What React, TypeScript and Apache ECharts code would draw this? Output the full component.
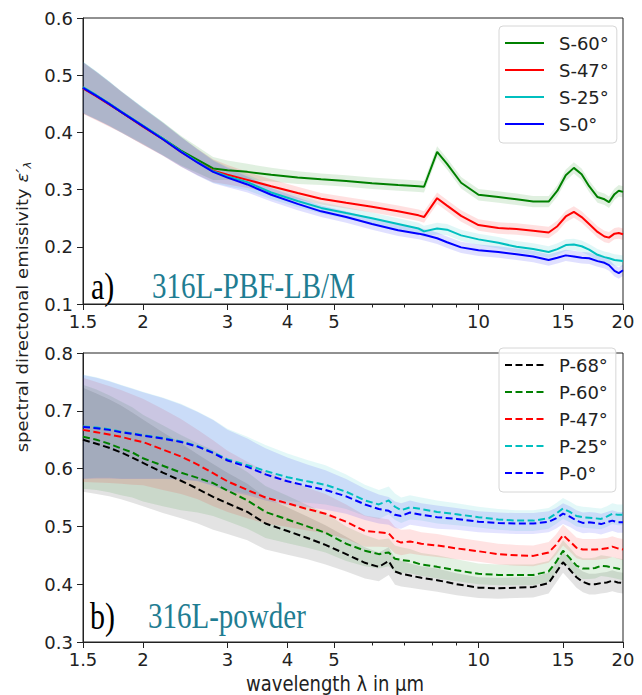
import React, { useEffect, useRef } from 'react';
import * as echarts from 'echarts';

// ---------- data ----------
const W_TOP = [1.5, 1.6, 1.7, 1.8, 2.0, 2.2, 2.4, 2.6, 2.8, 3.0, 3.3, 3.7, 4.2, 4.7, 5.3, 6.0, 6.8, 7.5, 7.7, 8.2, 8.6, 9.2, 10, 11, 12, 13, 14, 14.6, 15.2, 15.8, 16.4, 17, 17.7, 18.3, 18.7, 19.2, 19.6, 20];
const S60 = [0.478, 0.464, 0.450, 0.436, 0.411, 0.389, 0.368, 0.352, 0.337, 0.334, 0.331, 0.326, 0.321, 0.318, 0.315, 0.311, 0.308, 0.306, 0.305, 0.366, 0.345, 0.312, 0.291, 0.287, 0.283, 0.279, 0.279, 0.298, 0.325, 0.338, 0.327, 0.306, 0.287, 0.283, 0.278, 0.292, 0.298, 0.296];
const S47 = [0.477, 0.463, 0.449, 0.436, 0.410, 0.388, 0.366, 0.348, 0.333, 0.326, 0.317, 0.306, 0.294, 0.284, 0.277, 0.270, 0.262, 0.255, 0.252, 0.285, 0.272, 0.254, 0.238, 0.233, 0.231, 0.228, 0.225, 0.236, 0.253, 0.261, 0.252, 0.240, 0.226, 0.218, 0.216, 0.223, 0.224, 0.222];
const S25 = [0.479, 0.465, 0.451, 0.437, 0.412, 0.389, 0.367, 0.348, 0.332, 0.323, 0.313, 0.295, 0.280, 0.268, 0.259, 0.250, 0.240, 0.232, 0.227, 0.232, 0.230, 0.220, 0.213, 0.207, 0.200, 0.196, 0.191, 0.196, 0.203, 0.204, 0.201, 0.195, 0.186, 0.182, 0.180, 0.177, 0.176, 0.175];
const S0 = [0.478, 0.464, 0.450, 0.436, 0.411, 0.388, 0.366, 0.347, 0.331, 0.321, 0.309, 0.291, 0.275, 0.262, 0.252, 0.240, 0.229, 0.223, 0.221, 0.215, 0.208, 0.199, 0.194, 0.191, 0.187, 0.183, 0.177, 0.181, 0.185, 0.183, 0.181, 0.180, 0.175, 0.172, 0.168, 0.158, 0.154, 0.159];
const TOP_SPREAD = [0.045, 0.042, 0.039, 0.036, 0.032, 0.029, 0.026, 0.023, 0.020, 0.017, 0.014, 0.012, 0.011, 0.010, 0.010, 0.010, 0.010, 0.010, 0.010, 0.010, 0.010, 0.010, 0.010, 0.010, 0.010, 0.010, 0.010, 0.010, 0.010, 0.010, 0.010, 0.010, 0.010, 0.010, 0.010, 0.010, 0.010, 0.010];

const W_BOT = [1.5, 1.6, 1.7, 1.8, 1.9, 2.0, 2.2, 2.4, 2.6, 2.8, 3.0, 3.3, 3.6, 4.0, 4.4, 4.8, 5.3, 5.8, 6.2, 6.5, 6.7, 6.9, 7.2, 7.6, 8.2, 9, 10, 11, 12, 13, 14, 14.5, 15, 15.5, 16, 16.5, 17, 17.5, 18, 18.5, 19, 19.5, 20];
const P68 = [0.650, 0.643, 0.636, 0.628, 0.619, 0.610, 0.593, 0.579, 0.565, 0.551, 0.540, 0.525, 0.505, 0.492, 0.480, 0.468, 0.452, 0.437, 0.430, 0.440, 0.422, 0.418, 0.415, 0.411, 0.407, 0.400, 0.394, 0.393, 0.394, 0.395, 0.402, 0.420, 0.438, 0.425, 0.412, 0.404, 0.400, 0.400, 0.402, 0.403, 0.406, 0.403, 0.402];
const P60 = [0.655, 0.650, 0.643, 0.635, 0.628, 0.618, 0.605, 0.593, 0.584, 0.575, 0.562, 0.545, 0.525, 0.512, 0.500, 0.489, 0.470, 0.458, 0.452, 0.455, 0.444, 0.442, 0.440, 0.434, 0.430, 0.424, 0.418, 0.416, 0.416, 0.416, 0.422, 0.438, 0.458, 0.445, 0.432, 0.427, 0.427, 0.428, 0.432, 0.431, 0.429, 0.427, 0.425];
const P47 = [0.667, 0.663, 0.659, 0.655, 0.650, 0.646, 0.633, 0.621, 0.607, 0.592, 0.578, 0.563, 0.550, 0.540, 0.530, 0.522, 0.508, 0.492, 0.490, 0.488, 0.476, 0.472, 0.474, 0.470, 0.467, 0.462, 0.457, 0.452, 0.450, 0.449, 0.455, 0.468, 0.485, 0.474, 0.463, 0.460, 0.460, 0.460, 0.461, 0.462, 0.465, 0.462, 0.460];
const P25 = [0.673, 0.671, 0.668, 0.664, 0.661, 0.658, 0.653, 0.647, 0.639, 0.628, 0.616, 0.606, 0.596, 0.585, 0.578, 0.572, 0.560, 0.545, 0.538, 0.545, 0.534, 0.528, 0.533, 0.530, 0.525, 0.521, 0.516, 0.512, 0.510, 0.510, 0.514, 0.522, 0.531, 0.525, 0.518, 0.516, 0.515, 0.514, 0.513, 0.517, 0.522, 0.520, 0.520];
const P0 = [0.672, 0.670, 0.667, 0.663, 0.660, 0.657, 0.652, 0.646, 0.638, 0.627, 0.614, 0.603, 0.590, 0.578, 0.570, 0.563, 0.552, 0.538, 0.530, 0.527, 0.520, 0.518, 0.524, 0.520, 0.516, 0.513, 0.508, 0.506, 0.505, 0.505, 0.508, 0.514, 0.522, 0.517, 0.510, 0.506, 0.507, 0.506, 0.504, 0.507, 0.510, 0.507, 0.507];
const BOT_SPREAD = [0.090, 0.087, 0.084, 0.081, 0.078, 0.075, 0.070, 0.065, 0.060, 0.057, 0.053, 0.049, 0.045, 0.041, 0.037, 0.034, 0.030, 0.027, 0.025, 0.024, 0.023, 0.022, 0.021, 0.020, 0.020, 0.019, 0.018, 0.018, 0.018, 0.018, 0.018, 0.018, 0.018, 0.018, 0.018, 0.018, 0.018, 0.018, 0.018, 0.018, 0.018, 0.018, 0.018];

const X_MAJOR = [1.5, 2, 3, 4, 5, 10, 15, 20];
const X_MINOR = [6, 7, 8, 9];

const TOP_NAMES = ['S-60°', 'S-47°', 'S-25°', 'S-0°'];
const BOT_NAMES = ['P-68°', 'P-60°', 'P-47°', 'P-25°', 'P-0°'];

// ---------- helpers ----------
const lg = (v: number) => Math.log10(v);
const FONT = 'DejaVu Sans';
const INK = '#222';

const COLORS: Record<string, [number, number, number]> = {
  g: [0, 128, 0],
  r: [255, 0, 0],
  c: [0, 191, 191],
  b: [0, 0, 255],
  k: [0, 0, 0],
};
const hex = (c: [number, number, number]) => `rgb(${c[0]},${c[1]},${c[2]})`;
const rgba = (c: [number, number, number], a: number) => `rgba(${c[0]},${c[1]},${c[2]},${a})`;

function bandSeries(xi: number, yi: number, W: number[], vals: number[], spread: number[], fill: string) {
  const data = W.map((w, i) => [lg(w), vals[i] - spread[i], vals[i] + spread[i]]);
  return {
    type: 'custom',
    xAxisIndex: xi,
    yAxisIndex: yi,
    silent: true,
    z: 1,
    encode: { x: 0, y: [1, 2] },
    data,
    renderItem: (params: any, api: any) => {
      if (params.dataIndex !== 0) return null;
      const upper = data.map((d) => api.coord([d[0], d[2]]));
      const lower = data.map((d) => api.coord([d[0], d[1]])).reverse();
      return {
        type: 'polygon',
        shape: { points: upper.concat(lower) },
        style: { fill },
      };
    },
  };
}

function lineSeries(name: string, xi: number, yi: number, W: number[], vals: number[], color: string, dashed: boolean) {
  return {
    name,
    type: 'line',
    xAxisIndex: xi,
    yAxisIndex: yi,
    data: W.map((w, i) => [lg(w), vals[i]]),
    showSymbol: false,
    symbol: 'none',
    z: 3,
    lineStyle: { color, width: 2, type: dashed ? [7, 3.5] : 'solid' },
    itemStyle: { color },
  };
}

function xAxes(gridIndex: number) {
  const common = {
    gridIndex,
    type: 'value',
    min: lg(1.5),
    max: lg(20),
    position: 'bottom',
    splitLine: { show: false },
  };
  return [
    {
      ...common,
      axisLine: { show: true, lineStyle: { color: INK, width: 1 } },
      axisTick: { show: true, customValues: X_MAJOR.map(lg), length: 6, lineStyle: { color: INK } },
      axisLabel: {
        show: true,
        customValues: X_MAJOR.map(lg),
        formatter: (v: number) => String(Math.round(Math.pow(10, v) * 10) / 10),
        fontSize: 18,
        fontFamily: FONT,
        color: INK,
        margin: 8,
      },
    },
    {
      ...common,
      axisLine: { show: false },
      axisTick: { show: true, customValues: X_MINOR.map(lg), length: 3.5, lineStyle: { color: INK } },
      axisLabel: { show: false },
    },
  ];
}

function yAxis(gridIndex: number, min: number, max: number) {
  return {
    gridIndex,
    type: 'value',
    min,
    max,
    interval: 0.1,
    splitLine: { show: false },
    axisLine: { show: true, lineStyle: { color: INK, width: 1 } },
    axisTick: { show: true, length: 6, lineStyle: { color: INK } },
    axisLabel: {
      formatter: (v: number) => v.toFixed(1),
      fontSize: 18,
      fontFamily: FONT,
      color: INK,
      margin: 10,
    },
  };
}

function legend(names: string[], top: number) {
  return {
    data: names,
    orient: 'vertical',
    left: 499,
    top,
    itemWidth: 39,
    itemHeight: 14,
    itemGap: 9,
    padding: [8, 8, 10, 5],
    borderColor: '#d6d6d6',
    borderWidth: 1,
    borderRadius: 4,
    backgroundColor: 'rgba(255,255,255,0.85)',
    selectedMode: false,
    itemStyle: { opacity: 0 },
    textStyle: { fontSize: 18, fontFamily: FONT, color: INK, padding: [0, 0, 0, 10] },
  };
}

export default function App() {
  const ref = useRef<HTMLDivElement>(null);

  useEffect(() => {
    if (!ref.current) return;
    const chart = echarts.init(ref.current, undefined, { renderer: 'svg' });

    const topSets: [string, number[], string][] = [
      [TOP_NAMES[0], S60, 'g'],
      [TOP_NAMES[1], S47, 'r'],
      [TOP_NAMES[2], S25, 'c'],
      [TOP_NAMES[3], S0, 'b'],
    ];
    const botSets: [string, number[], string][] = [
      [BOT_NAMES[0], P68, 'k'],
      [BOT_NAMES[1], P60, 'g'],
      [BOT_NAMES[2], P47, 'r'],
      [BOT_NAMES[3], P25, 'c'],
      [BOT_NAMES[4], P0, 'b'],
    ];

    const series: any[] = [];
    topSets.forEach(([, vals, c]) => series.push(bandSeries(0, 0, W_TOP, vals, TOP_SPREAD, rgba(COLORS[c], 0.12))));
    botSets.forEach(([, vals, c]) => series.push(bandSeries(2, 1, W_BOT, vals, BOT_SPREAD, rgba(COLORS[c], 0.11))));
    topSets.forEach(([n, vals, c]) => series.push(lineSeries(n, 0, 0, W_TOP, vals, hex(COLORS[c]), false)));
    botSets.forEach(([n, vals, c]) => series.push(lineSeries(n, 2, 1, W_BOT, vals, hex(COLORS[c]), true)));

    const teal = '#1f7d92';
    const serif = 'Liberation Serif';

    chart.setOption({
      animation: false,
      backgroundColor: '#fff',
      grid: [
        { left: 83, top: 18, width: 540, height: 286, show: true, borderColor: INK, borderWidth: 1, backgroundColor: 'transparent' },
        { left: 83, top: 353, width: 540, height: 289, show: true, borderColor: INK, borderWidth: 1, backgroundColor: 'transparent' },
      ],
      xAxis: [...xAxes(0), ...xAxes(1)],
      yAxis: [yAxis(0, 0.1, 0.6), yAxis(1, 0.3, 0.8)],
      legend: [legend(TOP_NAMES, 26), legend(BOT_NAMES, 348)],
      series,
      graphic: [
        {
          type: 'text',
          x: 23,
          y: 307,
          rotation: Math.PI / 2,
          scaleX: 1.2,
          style: {
            text: '{a|spectral directonal emissivity }{e|ε′}{s|λ}',
            textAlign: 'center',
            textVerticalAlign: 'middle',
            rich: {
              a: { fontSize: 15, fontFamily: FONT, fill: INK, lineHeight: 20 },
              e: { fontSize: 15, fontFamily: FONT, fontStyle: 'italic', fill: INK, lineHeight: 20 },
              s: { fontSize: 10, fontFamily: FONT, fontStyle: 'italic', fill: INK, lineHeight: 20, verticalAlign: 'bottom' },
            },
          },
        },
        {
          type: 'text',
          x: 335,
          y: 684,
          scaleY: 1.2,
          style: {
            text: 'wavelength λ in μm',
            font: `18px "${FONT}"`,
            fill: INK,
            textAlign: 'center',
            textVerticalAlign: 'middle',
          },
        },
        {
          type: 'text', x: 91, y: 286, scaleY: 1.25,
          style: { text: 'a)', font: `30px "${serif}"`, fill: '#000', textAlign: 'left', textVerticalAlign: 'middle' },
        },
        {
          type: 'text', x: 152, y: 286, scaleY: 1.25,
          style: { text: '316L-PBF-LB/M', font: `29px "${serif}"`, fill: teal, textAlign: 'left', textVerticalAlign: 'middle' },
        },
        {
          type: 'text', x: 90, y: 616, scaleY: 1.25,
          style: { text: 'b)', font: `30px "${serif}"`, fill: '#000', textAlign: 'left', textVerticalAlign: 'middle' },
        },
        {
          type: 'text', x: 148, y: 616, scaleY: 1.25,
          style: { text: '316L-powder', font: `29px "${serif}"`, fill: teal, textAlign: 'left', textVerticalAlign: 'middle' },
        },
      ],
    });

    return () => chart.dispose();
  }, []);

  return (
    <div
      ref={ref}
      style={{ position: 'fixed', left: 0, top: 0, width: 642, height: 695, background: '#fff' }}
    />
  );
}
